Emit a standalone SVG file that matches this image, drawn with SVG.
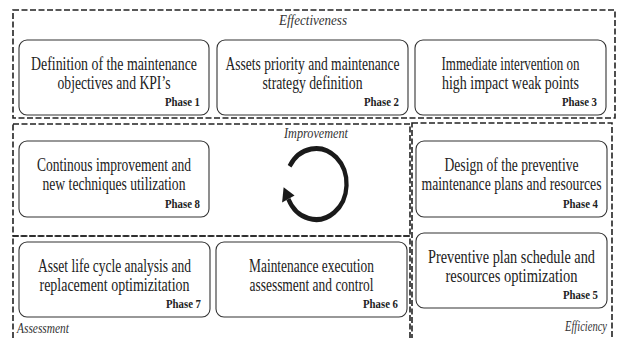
<svg xmlns="http://www.w3.org/2000/svg" width="617" height="338" viewBox="0 0 617 338">
  <style>
    .zone { fill: none; stroke: #222; stroke-width: 1.6; stroke-dasharray: 6 2.5; }
    .box { fill: #fff; stroke: #333; stroke-width: 1.1; }
    .txt { font-size: 18px; text-anchor: middle; }
    .ph { font-size: 13px; font-weight: bold; text-anchor: end; }
    .zl { font-size: 14px; font-style: italic; fill: #333; }
  </style>
  <rect width="617" height="338" fill="#fff"/>

  <g font-family="Liberation Serif, Tinos, Times New Roman, DejaVu Serif, serif" fill="#222">
  <!-- dashed zones -->
  <g id="zones">
    <rect class="zone" x="13" y="10" width="602" height="108"/>
    <rect class="zone" x="13" y="124" width="397" height="112"/>
    <rect class="zone" x="412" y="123" width="200" height="240"/>
    <rect class="zone" x="13" y="236" width="397" height="130"/>
    <text class="zl" x="279" y="25" textLength="68" lengthAdjust="spacingAndGlyphs">Effectiveness</text>
    <text class="zl" x="284" y="138" textLength="64" lengthAdjust="spacingAndGlyphs">Improvement</text>
    <text class="zl" x="17" y="333" textLength="52" lengthAdjust="spacingAndGlyphs">Assessment</text>
    <text class="zl" x="565" y="331" textLength="42" lengthAdjust="spacingAndGlyphs">Efficiency</text>
  </g>

  <g id="phase1">
    <rect class="box" x="19" y="40" width="190" height="75" rx="8"/>
    <text class="txt" x="114" y="70" textLength="166" lengthAdjust="spacingAndGlyphs">Definition of the maintenance</text>
    <text class="txt" x="114" y="89" textLength="113" lengthAdjust="spacingAndGlyphs">objectives and KPI’s</text>
    <text class="ph" x="200" y="106" textLength="35" lengthAdjust="spacingAndGlyphs">Phase 1</text>
  </g>
  <g id="phase2">
    <rect class="box" x="217" y="40" width="191" height="75" rx="8"/>
    <text class="txt" x="312.5" y="70" textLength="174" lengthAdjust="spacingAndGlyphs">Assets priority and maintenance</text>
    <text class="txt" x="312.5" y="89" textLength="100" lengthAdjust="spacingAndGlyphs">strategy definition</text>
    <text class="ph" x="399" y="106" textLength="35" lengthAdjust="spacingAndGlyphs">Phase 2</text>
  </g>
  <g id="phase3">
    <rect class="box" x="415" y="40" width="191" height="75" rx="8"/>
    <text class="txt" x="510.5" y="70" textLength="138" lengthAdjust="spacingAndGlyphs">Immediate intervention on</text>
    <text class="txt" x="510.5" y="89" textLength="137" lengthAdjust="spacingAndGlyphs">high impact weak points</text>
    <text class="ph" x="597" y="106" textLength="35" lengthAdjust="spacingAndGlyphs">Phase 3</text>
  </g>
  <g id="phase8">
    <rect class="box" x="19" y="141" width="190" height="76" rx="8"/>
    <text class="txt" x="114" y="171" textLength="154" lengthAdjust="spacingAndGlyphs">Continous improvement and</text>
    <text class="txt" x="114" y="190" textLength="143" lengthAdjust="spacingAndGlyphs">new techniques utilization</text>
    <text class="ph" x="200" y="208" textLength="35" lengthAdjust="spacingAndGlyphs">Phase 8</text>
  </g>
  <g id="phase4">
    <rect class="box" x="416" y="141" width="191" height="76" rx="8"/>
    <text class="txt" x="511.5" y="171" textLength="134" lengthAdjust="spacingAndGlyphs">Design of the preventive</text>
    <text class="txt" x="511.5" y="190" textLength="180" lengthAdjust="spacingAndGlyphs">maintenance plans and resources</text>
    <text class="ph" x="598" y="208" textLength="35" lengthAdjust="spacingAndGlyphs">Phase 4</text>
  </g>
  <g id="phase5">
    <rect class="box" x="416" y="233" width="191" height="75" rx="8"/>
    <text class="txt" x="511.5" y="263" textLength="167" lengthAdjust="spacingAndGlyphs">Preventive plan schedule and</text>
    <text class="txt" x="511.5" y="282" textLength="132" lengthAdjust="spacingAndGlyphs">resources optimization</text>
    <text class="ph" x="598" y="299" textLength="35" lengthAdjust="spacingAndGlyphs">Phase 5</text>
  </g>
  <g id="phase7">
    <rect class="box" x="19" y="242" width="191" height="75" rx="8"/>
    <text class="txt" x="114.5" y="272" textLength="153" lengthAdjust="spacingAndGlyphs">Asset life cycle analysis and</text>
    <text class="txt" x="114.5" y="291" textLength="150" lengthAdjust="spacingAndGlyphs">replacement optimizitation</text>
    <text class="ph" x="201" y="308" textLength="35" lengthAdjust="spacingAndGlyphs">Phase 7</text>
  </g>
  <g id="phase6">
    <rect class="box" x="216" y="242" width="191" height="75" rx="8"/>
    <text class="txt" x="311.5" y="272" textLength="125" lengthAdjust="spacingAndGlyphs">Maintenance execution</text>
    <text class="txt" x="311.5" y="291" textLength="124" lengthAdjust="spacingAndGlyphs">assessment and control</text>
    <text class="ph" x="398" y="308" textLength="35" lengthAdjust="spacingAndGlyphs">Phase 6</text>
  </g>
  </g>

  <!-- improvement cycle arrow: slightly narrow ring, clockwise, head at lower left -->
  <g id="connectors" transform="translate(316,184) scale(0.86,1)">
    <path d="M-30.74 -17.75 A35.5 35.5 0 1 1 -32.17 15" fill="none" stroke="#1a1a1a" stroke-width="5"/>
    <polygon points="-37.66,3.22 -39.42,18.38 -24.92,11.62" fill="#1a1a1a"/>
  </g>
</svg>
